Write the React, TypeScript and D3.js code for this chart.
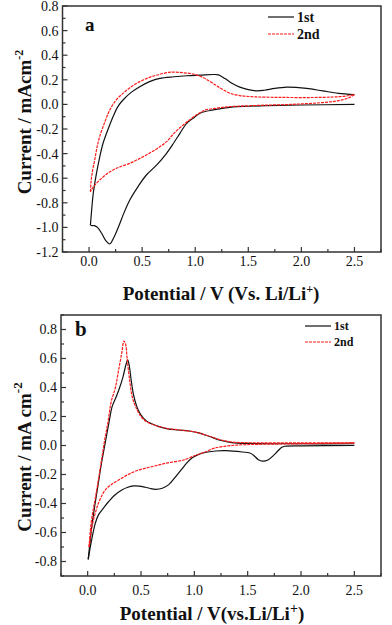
import React from "react";
import * as d3 from "d3";

// panel a, 1st cycle: cathodic sweep (2.5 -> 0 V) then anodic sweep (0 -> 2.5 V)
const A1_CATHODIC: [number, number][] = [
  [2.5, 0.0], [2.0, -0.005], [1.67, -0.01], [1.5, -0.015], [1.36, -0.02],
  [1.17, -0.045], [1.05, -0.07], [0.98, -0.113], [0.92, -0.154], [0.856, -0.235],
  [0.8, -0.31], [0.73, -0.398], [0.64, -0.49], [0.54, -0.574], [0.46, -0.67],
  [0.384, -0.777], [0.33, -0.88], [0.28, -0.99], [0.235, -1.08], [0.195, -1.135],
  [0.16, -1.11], [0.12, -1.05], [0.08, -1.0], [0.05, -0.985], [0.03, -0.985],
  [0.013, -0.98],
];
const A1_ANODIC: [number, number][] = [
  [0.013, -0.98], [0.022, -0.886], [0.04, -0.72], [0.07, -0.56], [0.1, -0.43],
  [0.132, -0.316], [0.18, -0.2], [0.226, -0.1], [0.27, -0.02], [0.32, 0.036],
  [0.4, 0.1], [0.478, 0.144], [0.57, 0.185], [0.667, 0.212], [0.8, 0.225],
  [0.92, 0.233], [1.05, 0.238], [1.17, 0.243], [1.22, 0.24], [1.28, 0.21],
  [1.35, 0.17], [1.42, 0.14], [1.5, 0.12], [1.58, 0.11], [1.65, 0.115],
  [1.75, 0.13], [1.86, 0.14], [1.95, 0.138], [2.05, 0.13], [2.2, 0.11],
  [2.35, 0.09], [2.5, 0.08],
];
// panel a, 2nd cycle
const A2_CATHODIC: [number, number][] = [
  [2.5, 0.08], [2.45, 0.055], [2.35, 0.03], [2.2, 0.015], [1.9, 0.0],
  [1.6, -0.008], [1.3, -0.02], [1.17, -0.035], [1.1, -0.045], [1.04, -0.07],
  [0.98, -0.105], [0.887, -0.167], [0.8, -0.235], [0.73, -0.303], [0.64, -0.36],
  [0.54, -0.411], [0.46, -0.447], [0.384, -0.479], [0.3, -0.505], [0.226, -0.533],
  [0.16, -0.57], [0.1, -0.615], [0.05, -0.66], [0.022, -0.696], [0.013, -0.71],
];
const A2_ANODIC: [number, number][] = [
  [0.013, -0.71], [0.02, -0.62], [0.035, -0.53], [0.054, -0.45], [0.075, -0.35],
  [0.1, -0.262], [0.15, -0.14], [0.195, -0.046], [0.25, 0.03], [0.32, 0.09],
  [0.4, 0.145], [0.478, 0.185], [0.57, 0.22], [0.667, 0.245], [0.75, 0.26],
  [0.79, 0.263], [0.88, 0.258], [0.98, 0.247], [1.07, 0.22], [1.17, 0.17],
  [1.25, 0.125], [1.33, 0.09], [1.42, 0.072], [1.55, 0.062], [1.8, 0.057],
  [2.1, 0.056], [2.3, 0.06], [2.42, 0.068], [2.5, 0.08],
];

// panel b, 1st cycle
const B1_CATHODIC: [number, number][] = [
  [2.5, 0.0], [2.0, -0.002], [1.85, -0.005], [1.82, -0.012], [1.78, -0.04],
  [1.74, -0.07], [1.69, -0.1], [1.64, -0.108], [1.6, -0.098], [1.56, -0.07],
  [1.52, -0.052], [1.45, -0.045], [1.3, -0.036], [1.2, -0.038], [1.1, -0.048],
  [1.03, -0.065], [0.98, -0.085], [0.93, -0.12], [0.88, -0.165], [0.82, -0.22],
  [0.76, -0.27], [0.7, -0.295], [0.635, -0.302], [0.58, -0.295], [0.54, -0.288],
  [0.48, -0.28], [0.43, -0.279], [0.37, -0.29], [0.32, -0.307], [0.25, -0.345],
  [0.195, -0.388], [0.15, -0.43], [0.1, -0.48], [0.07, -0.54], [0.04, -0.64],
  [0.02, -0.72], [0.005, -0.785],
];
const B1_ANODIC: [number, number][] = [
  [0.005, -0.785], [0.02, -0.68], [0.04, -0.55], [0.07, -0.4], [0.1, -0.26],
  [0.13, -0.12], [0.165, 0.02], [0.2, 0.16], [0.23, 0.27], [0.27, 0.34],
  [0.3, 0.4], [0.33, 0.47], [0.36, 0.56], [0.375, 0.59], [0.39, 0.55],
  [0.41, 0.44], [0.43, 0.35], [0.46, 0.27], [0.5, 0.21], [0.55, 0.17],
  [0.6, 0.15], [0.67, 0.13], [0.75, 0.115], [0.85, 0.107], [0.95, 0.1],
  [1.05, 0.085], [1.15, 0.06], [1.25, 0.035], [1.35, 0.02], [1.5, 0.014],
  [2.0, 0.012], [2.5, 0.012],
];
// panel b, 2nd cycle
const B2_CATHODIC: [number, number][] = [
  [2.5, 0.018], [2.0, 0.012], [1.6, 0.008], [1.4, 0.003], [1.26, -0.008],
  [1.18, -0.02], [1.108, -0.043], [1.04, -0.06], [0.98, -0.077], [0.9, -0.1],
  [0.856, -0.107], [0.75, -0.12], [0.667, -0.134], [0.58, -0.15], [0.478, -0.169],
  [0.38, -0.2], [0.29, -0.238], [0.22, -0.27], [0.164, -0.307], [0.13, -0.35],
  [0.1, -0.4], [0.07, -0.47], [0.04, -0.56], [0.013, -0.7],
];
const B2_ANODIC: [number, number][] = [
  [0.013, -0.7], [0.03, -0.55], [0.05, -0.45], [0.07, -0.37], [0.1, -0.24],
  [0.13, -0.1], [0.16, 0.04], [0.19, 0.16], [0.22, 0.3], [0.26, 0.4],
  [0.29, 0.52], [0.32, 0.64], [0.34, 0.72], [0.355, 0.7], [0.37, 0.6],
  [0.39, 0.47], [0.42, 0.33], [0.46, 0.25], [0.5, 0.2], [0.55, 0.165],
  [0.6, 0.148], [0.67, 0.13], [0.75, 0.117], [0.85, 0.108], [0.95, 0.1],
  [1.05, 0.085], [1.15, 0.062], [1.25, 0.038], [1.35, 0.024], [1.5, 0.019],
  [2.0, 0.018], [2.5, 0.018],
];

const X_TICKS = [0.0, 0.5, 1.0, 1.5, 2.0, 2.5];
const A_Y_TICKS = [0.8, 0.6, 0.4, 0.2, 0.0, -0.2, -0.4, -0.6, -0.8, -1.0, -1.2];
const B_Y_TICKS = [0.8, 0.6, 0.4, 0.2, 0.0, -0.2, -0.4, -0.6, -0.8];
const LEGEND = ["1st", "2nd"];

const SERIF = "'Liberation Serif', 'Times New Roman', serif";
const FRAME = "#333";

type Pt = [number, number];

function Panel(props: {
  top: number;
  bottom: number;
  yDomain: [number, number];
  yTicks: number[];
  first: Pt[][];
  second: Pt[][];
  letter: string;
  letterSize: number;
  letterY: number;
  letterX: number;
  legendX: number;
  legendY: number;
  legendGap: number;
  legendSize: number;
  yTitle: React.ReactNode;
  yTitleY: number;
  xTitle: React.ReactNode;
  xTitleX: number;
  xTitleY: number;
  tickLabelY: number;
  left: number;
}) {
  const x = d3.scaleLinear().domain([-0.25, 2.75]).range([props.left, 381]);
  const y = d3.scaleLinear().domain(props.yDomain).range([props.bottom, props.top]);
  const line = d3
    .line<Pt>()
    .x((d) => x(d[0]))
    .y((d) => y(d[1]))
    .curve(d3.curveCatmullRom.alpha(0.5));

  const xMinor = d3.range(-0.25, 2.76, 0.25).filter((v) => !X_TICKS.some((t) => Math.abs(t - v) < 1e-6));
  const [y0, y1] = props.yDomain;
  const yMinor = d3
    .range(Math.ceil(y0 * 10), Math.floor(y1 * 10) + 1)
    .map((k) => k / 10)
    .filter((v) => !props.yTicks.some((t) => Math.abs(t - v) < 1e-6));

  return (
    <g>
      {/* curves */}
      {props.first.map((seg, i) => (
        <path key={"f" + i} d={line(seg) || ""} fill="none" stroke="#111" strokeWidth={1.2} />
      ))}
      {props.second.map((seg, i) => (
        <path
          key={"s" + i}
          d={line(seg) || ""}
          fill="none"
          stroke="#ff1a1a"
          strokeWidth={1.2}
          strokeDasharray="3 1"
        />
      ))}

      {/* frame */}
      <rect
        x={props.left}
        y={props.top}
        width={381 - props.left}
        height={props.bottom - props.top}
        fill="none"
        stroke={FRAME}
        strokeWidth={1.5}
      />

      {/* x axis ticks */}
      {X_TICKS.map((t) => (
        <g key={"xt" + t}>
          <line x1={x(t)} x2={x(t)} y1={props.bottom} y2={props.bottom - 5} stroke={FRAME} strokeWidth={1.2} />
          <text
            x={x(t)}
            y={props.tickLabelY}
            textAnchor="middle"
            fontFamily={SERIF}
            fontSize={14}
            fill="#111"
          >
            {t.toFixed(1)}
          </text>
        </g>
      ))}
      {xMinor.map((t) => (
        <line key={"xm" + t} x1={x(t)} x2={x(t)} y1={props.bottom} y2={props.bottom - 3} stroke={FRAME} strokeWidth={1.2} />
      ))}

      {/* y axis ticks */}
      {props.yTicks.map((t) => (
        <g key={"yt" + t}>
          <line x1={props.left} x2={props.left + 5} y1={y(t)} y2={y(t)} stroke={FRAME} strokeWidth={1.2} />
          <text
            x={props.left - 4}
            y={y(t)}
            dy="0.35em"
            textAnchor="end"
            fontFamily={SERIF}
            fontSize={14}
            fill="#111"
          >
            {t.toFixed(1)}
          </text>
        </g>
      ))}
      {yMinor.map((t) => (
        <line key={"ym" + t} x1={props.left} x2={props.left + 3} y1={y(t)} y2={y(t)} stroke={FRAME} strokeWidth={1.2} />
      ))}

      {/* panel letter */}
      <text
        x={props.letterX}
        y={props.letterY}
        fontFamily={SERIF}
        fontWeight="bold"
        fontSize={props.letterSize}
        fill="#111"
      >
        {props.letter}
      </text>

      {/* legend */}
      {LEGEND.map((name, i) => (
        <g key={name}>
          <line
            x1={props.legendX}
            x2={props.legendX + 26}
            y1={props.legendY + i * props.legendGap}
            y2={props.legendY + i * props.legendGap}
            stroke={i === 0 ? "#111" : "#ff1a1a"}
            strokeWidth={1.2}
            strokeDasharray={i === 0 ? undefined : "3 1"}
          />
          <text
            x={props.legendX + 29}
            y={props.legendY + i * props.legendGap}
            dy="0.35em"
            fontFamily={SERIF}
            fontWeight="bold"
            fontSize={props.legendSize}
            fill="#111"
          >
            {name}
          </text>
        </g>
      ))}

      {/* axis titles */}
      <text
        transform={`translate(31, ${props.yTitleY}) rotate(-90)`}
        textAnchor="middle"
        fontFamily={SERIF}
        fontWeight="bold"
        fontSize={19}
        fill="#111"
      >
        {props.yTitle}
      </text>
      <text
        x={props.xTitleX}
        y={props.xTitleY}
        textAnchor="middle"
        fontFamily={SERIF}
        fontWeight="bold"
        fontSize={19}
        fill="#111"
      >
        {props.xTitle}
      </text>
    </g>
  );
}

export default function App() {
  return (
    <svg
      width={392}
      height={625}
      style={{ position: "absolute", left: 0, top: 0, background: "#fff" }}
    >
      <Panel
        top={6}
        bottom={252}
        left={62.5}
        yDomain={[-1.2, 0.8]}
        yTicks={A_Y_TICKS}
        first={[A1_CATHODIC, A1_ANODIC]}
        second={[A2_CATHODIC, A2_ANODIC]}
        letter="a"
        letterSize={19}
        letterX={85}
        letterY={31}
        legendX={268}
        legendY={17}
        legendGap={17}
        legendSize={14}
        yTitle={
          <>
            Current / mAcm
            <tspan dy={-8} fontSize={12}>-2</tspan>
          </>
        }
        yTitleY={122}
        xTitle={
          <>
            Potential / V (Vs. Li/Li
            <tspan dy={-7} fontSize={12}>+</tspan>
            <tspan dy={7}>)</tspan>
          </>
        }
        xTitleX={221}
        xTitleY={300}
        tickLabelY={266}
      />
      <Panel
        top={315}
        bottom={576}
        left={61}
        yDomain={[-0.9, 0.9]}
        yTicks={B_Y_TICKS}
        first={[B1_CATHODIC, B1_ANODIC]}
        second={[B2_CATHODIC, B2_ANODIC]}
        letter="b"
        letterSize={21}
        letterX={75}
        letterY={336}
        legendX={305}
        legendY={326}
        legendGap={16}
        legendSize={12}
        yTitle={
          <>
            Current / mA cm
            <tspan dy={-9} fontSize={13}>-2</tspan>
          </>
        }
        yTitleY={457}
        xTitle={
          <>
            Potential / V(vs.Li/Li
            <tspan dy={-7} fontSize={14}>+</tspan>
            <tspan dy={7}>)</tspan>
          </>
        }
        xTitleX={212}
        xTitleY={620}
        tickLabelY={595}
      />
    </svg>
  );
}
